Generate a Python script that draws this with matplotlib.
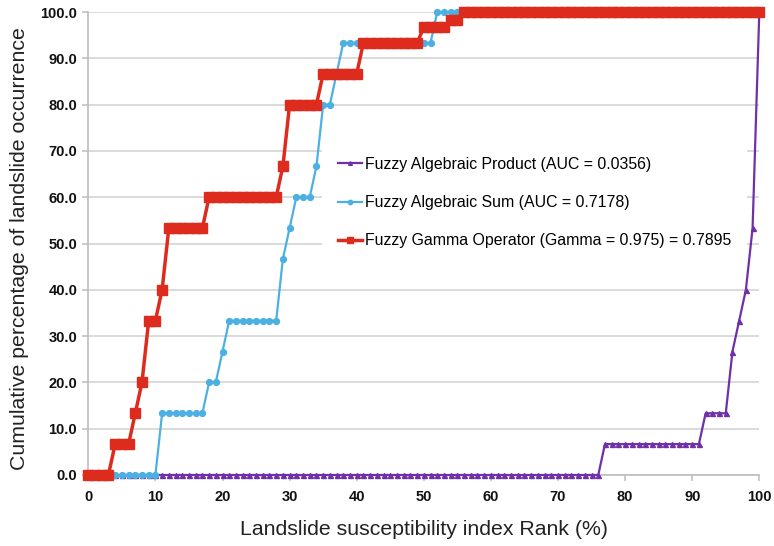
import numpy as np
import matplotlib
matplotlib.use('agg')
import matplotlib.pyplot as plt

plt.rcParams['font.family'] = ['Liberation Sans', 'DejaVu Sans']

# landslide susceptibility index rank, 1 % steps
rank = np.arange(0, 101)

# each curve: level (%) and number of ranks on it
product_levels = [0.0, 6.67, 13.33, 26.67, 33.33, 40.0, 53.33, 100.0]
product_counts = [77, 15, 4, 1, 1, 1, 1, 1]

sum_levels = [0.0, 13.33, 20.0, 26.67, 33.33, 46.67, 53.33, 60.0, 66.67, 80.0, 86.67, 93.33, 100.0]
sum_counts = [11, 7, 2, 1, 8, 1, 1, 3, 1, 2, 1, 14, 49]

gamma_levels = [0.0, 6.67, 13.33, 20.0, 33.33, 40.0, 53.33, 60.0, 66.67, 80.0, 86.67, 93.33, 96.67, 98.33, 100.0]
gamma_counts = [4, 3, 1, 1, 2, 1, 6, 11, 1, 5, 6, 9, 4, 2, 45]

labels = ['Fuzzy Algebraic Product (AUC = 0.0356)',
          'Fuzzy Algebraic Sum (AUC = 0.7178)',
          'Fuzzy Gamma Operator (Gamma = 0.975) = 0.7895']

product = np.repeat(product_levels, product_counts)
fsum = np.repeat(sum_levels, sum_counts)
gamma = np.repeat(gamma_levels, gamma_counts)

fig = plt.figure(figsize=(7.74, 5.46), dpi=100)
ax = fig.add_axes([88.3 / 774, 1 - 475 / 546, (759.3 - 88.3) / 774, (475 - 12) / 546])

ax.plot(rank, product, color='#7030A8', lw=1.6, marker='^', ms=3.6, clip_on=False, label=labels[0], zorder=3)
ax.plot(rank, fsum, color='#4CB0E2', lw=1.6, marker='o', ms=4.2, clip_on=False, label=labels[1], zorder=4)
ax.plot(rank, gamma, color='#DD2C1E', lw=2.5, marker='s', ms=6.5, clip_on=False, label=labels[2], zorder=5)

ax.set_xlim(0, 100)
ax.set_ylim(0, 100)
ax.set_xticks(np.arange(0, 101, 10))
ax.set_yticks(np.arange(0, 101, 10))
ax.set_yticklabels([f'{v:.1f}' for v in np.arange(0, 101, 10)])
ax.yaxis.grid(True, color='#D4D4D4', lw=1.2, zorder=0)
ax.set_axisbelow(True)

for side in ['top', 'right']:
    ax.spines[side].set_visible(False)
for side in ['left', 'bottom']:
    ax.spines[side].set_color('#BDBDBD')
    ax.spines[side].set_linewidth(1.2)

ax.tick_params(axis='both', colors='#BDBDBD', labelcolor='#111111', labelsize=10.5, length=4, width=1.1)
ax.tick_params(axis='x', pad=7)
ax.tick_params(axis='y', pad=4)
for t in ax.get_xticklabels() + ax.get_yticklabels():
    t.set_fontweight('bold')

ax.set_xlabel('Landslide susceptibility index Rank (%)', fontsize=15.3, color='#222222')
ax.set_ylabel('Cumulative percentage of landslide occurrence', fontsize=15.3, color='#222222')
ax.xaxis.set_label_coords(0.5, -0.097)
ax.yaxis.set_label_coords(-0.089, 0.49)

leg = ax.legend(loc='upper left', bbox_to_anchor=(322 / 774, 1 - 141 / 546), bbox_transform=fig.transFigure,
                fontsize=11.4, frameon=True, facecolor='white', edgecolor='none', framealpha=1,
                fancybox=False, borderaxespad=0, borderpad=1.0, handlelength=1.55,
                handletextpad=0.15, labelspacing=1.47, markerscale=0.75)
leg.set_zorder(6)

fig.savefig('out.png', dpi=100)
